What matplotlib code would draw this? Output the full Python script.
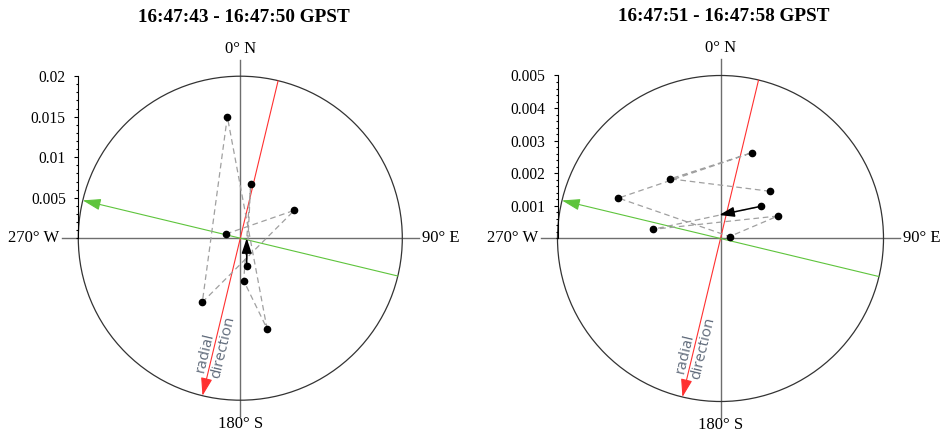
import numpy as np
import matplotlib
matplotlib.use("Agg")
import matplotlib.pyplot as plt
from matplotlib.patches import Circle

plt.rcParams['font.family'] = ['Liberation Serif', 'DejaVu Serif']

# epoch windows
titles = ["16:47:43 - 16:47:50 GPST", "16:47:51 - 16:47:58 GPST"]

# horizontal error per epoch (east, north), in time order
east_1 = [-0.00177, 0.00667, -0.00469, -0.00160, 0.00330, 0.00042, 0.00128, 0.00079]
north_1 = [0.00052, 0.00344, -0.00791, 0.01500, -0.01117, -0.00525, 0.00665, -0.00340]
east_2 = [0.00151, -0.00154, 0.00096, -0.00313, 0.00028, 0.00176, -0.00208, 0.00125]
north_2 = [0.00145, 0.00183, 0.00263, 0.00124, 0.00006, 0.00069, 0.00028, 0.00099]

# step vector drawn from the last epoch (east, north)
step_1 = [0.0, 0.0034]
step_2 = [-0.00129, -0.00027]

# plot radius, major / minor tick spacing
r_max = [0.02, 0.005]
major_step = [0.005, 0.001]
minor_step = [0.001, 0.0002]
tick_labels_1 = ["0.005", "0.01", "0.015", "0.02"]
tick_labels_2 = ["0.001", "0.002", "0.003", "0.004", "0.005"]

# azimuth of the radial direction (deg from north, clockwise)
radial_az = 193.5
cross_az = 283.5

fig = plt.figure(figsize=(9.47, 4.33), dpi=100)
W, H = 947, 433


def make_axes(cx, cy, rpx):
    return fig.add_axes([(cx - rpx) / W, (H - cy - rpx) / H, 2 * rpx / W, 2 * rpx / H])


def unit(az):
    a = np.deg2rad(az)
    return np.array([np.sin(a), np.cos(a)])


def panel(ax, R, title, east, north, step, major, minor, labels):
    ax.set_xlim(-R, R)
    ax.set_ylim(-R, R)
    for s in ["top", "right", "bottom"]:
        ax.spines[s].set_visible(False)
    ax.spines["left"].set_bounds(0, R)
    ax.spines["left"].set_linewidth(0.8)
    ax.set_xticks([])
    ax.set_yticks(np.arange(1, len(labels) + 1) * major)
    ax.set_yticklabels(labels)
    ax.set_yticks(np.arange(0, R + minor / 2, minor), minor=True)
    ax.tick_params(axis="y", which="major", length=3, width=0.8, pad=6, labelsize=11.2)
    ax.tick_params(axis="y", which="minor", length=1.5, width=0.8)
    ax.patch.set_visible(False)

    ext = 1.1 * R
    ax.plot([-ext, ext], [0, 0], color="#6e6e6e", lw=1.0, clip_on=False, zorder=1)
    ax.plot([0, 0], [-ext, ext], color="#6e6e6e", lw=1.0, clip_on=False, zorder=1)
    ax.add_patch(Circle((0, 0), R, fill=False, ec="#333333", lw=0.9, clip_on=False, zorder=1))

    # radial direction and its perpendicular
    u = unit(radial_az)
    ax.annotate("", xy=u * R, xytext=-u * R,
                arrowprops=dict(arrowstyle="-|>,head_length=1.1,head_width=0.35",
                                color="#ff3030", lw=0.8, shrinkA=0, shrinkB=0),
                annotation_clip=False, zorder=2)
    v = unit(cross_az)
    ax.annotate("", xy=v * R, xytext=-v * R,
                arrowprops=dict(arrowstyle="-|>,head_length=1.1,head_width=0.35",
                                color="#5ec43c", lw=0.8, shrinkA=0, shrinkB=0),
                annotation_clip=False, zorder=2)

    rot = np.rad2deg(np.arctan2(-u[1], -u[0]))
    up = np.array([u[1], -u[0]])
    p1 = u * 0.735 * R + up * 0.05 * R
    p2 = u * 0.68 * R - up * 0.055 * R
    for p, s in [(p1, "radial"), (p2, "direction")]:
        ax.text(p[0], p[1], s, rotation=rot, rotation_mode="anchor",
                ha="center", va="center", color="#5f6a7a", fontsize=11,
                family=["Open Sans", "DejaVu Sans"], clip_on=False)

    ax.plot(east, north, ls=(0, (4.5, 3)), color="#a0a0a0", lw=0.9, zorder=3, clip_on=False)
    ax.plot(east, north, "o", color="black", ms=4.5, zorder=4, clip_on=False)
    ax.annotate("", xy=(east[-1] + step[0], north[-1] + step[1]), xytext=(east[-1], north[-1]),
                arrowprops=dict(arrowstyle="-|>,head_length=0.9,head_width=0.3",
                                color="black", lw=1.1, shrinkA=0, shrinkB=0),
                zorder=5)

    ax.text(0, 1.17 * R, "0° N", ha="center", va="center", fontsize=12)
    ax.text(0, -1.145 * R, "180° S", ha="center", va="center", fontsize=12)
    ax.text(1.12 * R, 0, "90° E", ha="left", va="center", fontsize=12)
    ax.text(-1.12 * R, 0, "270° W", ha="right", va="center", fontsize=12)
    ax.text(0.02 * R, 1.36 * R, title, ha="center", va="center", fontsize=13.8,
            fontweight="bold")


ax1 = make_axes(240.3, 238.2, 162)
ax2 = make_axes(720.5, 238.5, 163)
panel(ax1, r_max[0], titles[0], east_1, north_1, step_1, major_step[0], minor_step[0], tick_labels_1)
panel(ax2, r_max[1], titles[1], east_2, north_2, step_2, major_step[1], minor_step[1], tick_labels_2)

fig.savefig("out.png", dpi=100)
